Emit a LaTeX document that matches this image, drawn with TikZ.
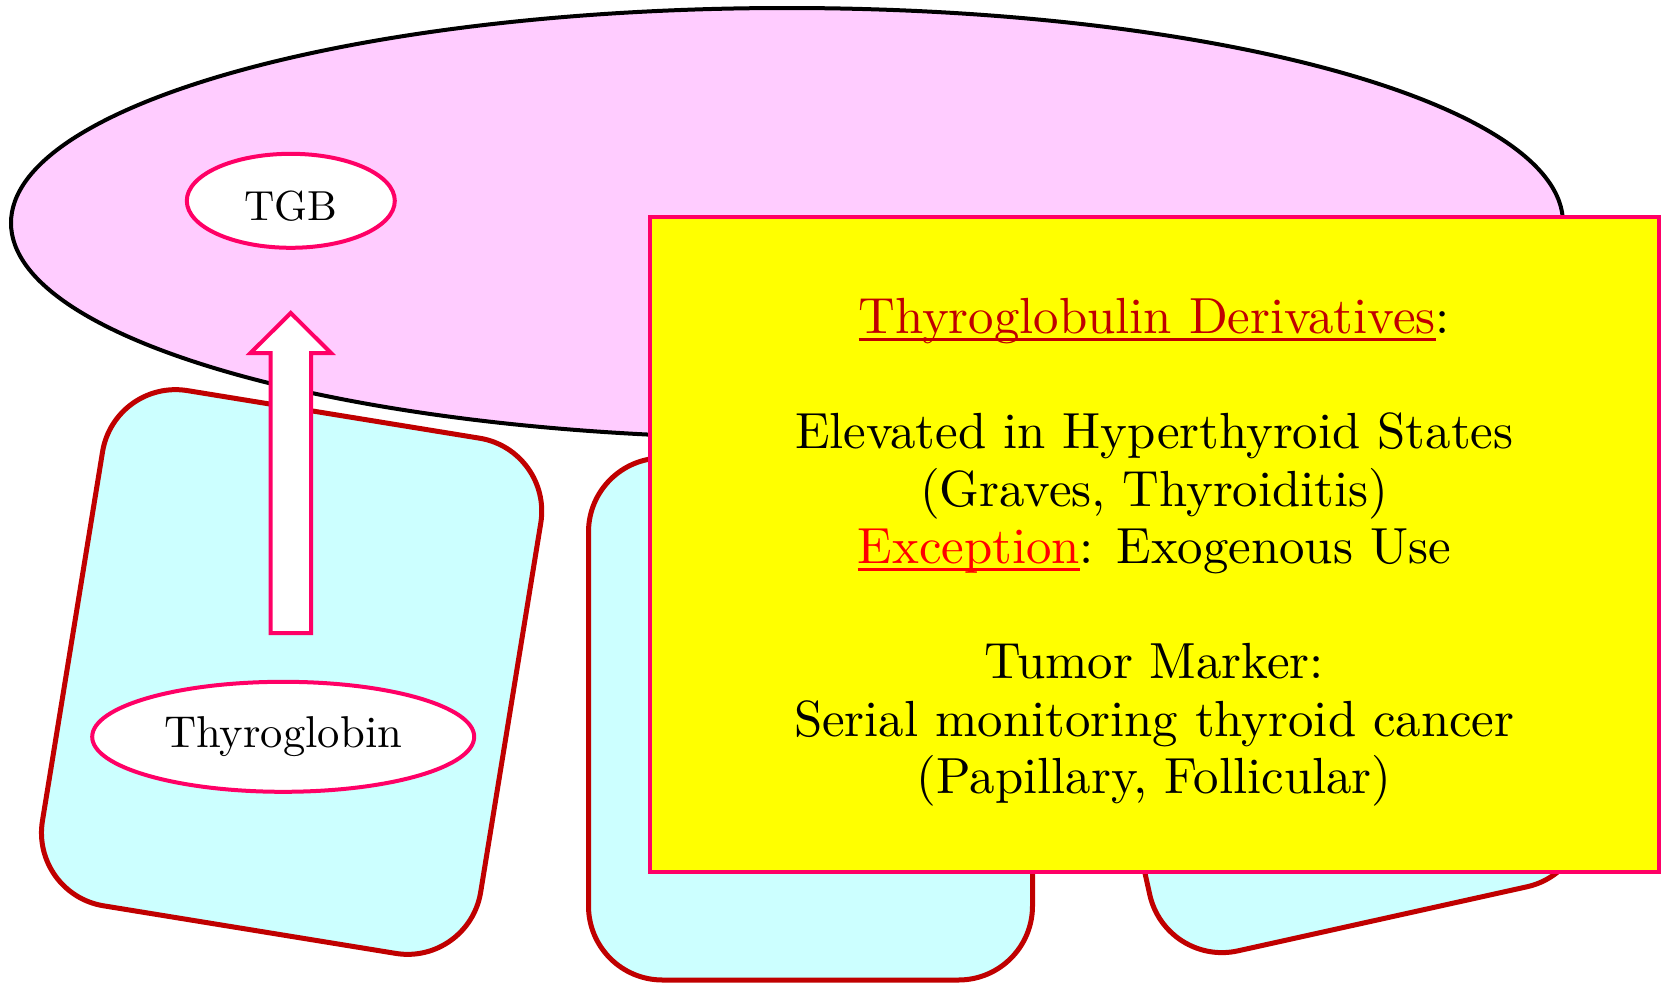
\documentclass[tikz,border=0pt]{standalone}
\usetikzlibrary{shapes.geometric}
\definecolor{pinkfill}{HTML}{FFCCFF}
\definecolor{cyanfill}{HTML}{CCFFFF}
\definecolor{darkredc}{HTML}{C00000}
\definecolor{pinkline}{HTML}{FF0066}
\definecolor{yellowfill}{HTML}{FFFF00}
\font\infofont="[lmroman10-regular]" at 25.4pt
\font\thgfont="[lmroman10-regular]" at 22.3pt
\font\tgbfont="[lmroman10-regular]" at 21pt
\newcommand{\myul}[1]{\setbox0=\hbox{#1}\rlap{\rule[-0.13em]{\wd0}{0.045em}}\box0}
\begin{document}
\begin{tikzpicture}[x=0.5pt,y=-0.5pt,
  cellbox/.style={draw=darkredc, line width=2.5pt, fill=cyanfill, rounded corners=37pt,
    minimum width=222pt, minimum height=261pt, inner sep=0pt, outer sep=0pt},
  labelell/.style={ellipse, draw=pinkline, line width=2pt, fill=white, inner sep=0pt},
  ]
\useasboundingbox (0,0) rectangle (1665,985);
\node[cellbox, rotate=-9.25] (cellL) at (291.6,672) {};
\node[cellbox] (cellM) at (810.5,719) {};
\node[cellbox, rotate=12.5] (cellR) at (1326,664) {};
\node[ellipse, draw=black, line width=2pt, fill=pinkfill, minimum width=776pt,
  minimum height=215pt, inner sep=0pt] (cell) at (787,223) {};
\node[labelell, minimum width=104pt, minimum height=47pt, text height=19.85pt, text depth=0pt,
  font=\tgbfont] (tgb) at (290.8,200.8) {TGB};
\draw[draw=pinkline, line width=2pt, fill=white] (270.5,633) -- (270.5,353) -- (250.5,353)
  -- (290.8,313) -- (331,353) -- (311,353) -- (311,633) -- cycle;
\node[labelell, minimum width=191pt, minimum height=55pt,
  font=\thgfont] (thg) at (283.2,736.8) {Thyroglobin};
\node[draw=pinkline, line width=2pt, fill=yellowfill, minimum width=504.25pt,
  minimum height=327.5pt, inner sep=0pt] (info) at (1154.25,544.2) {};
\node[inner sep=0pt, align=center, font={\fontsize{25.4}{28.75}\selectfont\infofont}]
  (infotext) at (1154.25,552.7)
  {\textcolor{darkredc}{\myul{Thyroglobulin Derivatives}}:\\[28.75pt]
   Elevated in Hyperthyroid States\\
   (Graves, Thyroiditis)\\
   \textcolor{red}{\myul{Exception}}: Exogenous Use\\[28.75pt]
   Tumor Marker:\\
   Serial monitoring thyroid cancer\\
   (Papillary, Follicular)};
\end{tikzpicture}
\end{document}
